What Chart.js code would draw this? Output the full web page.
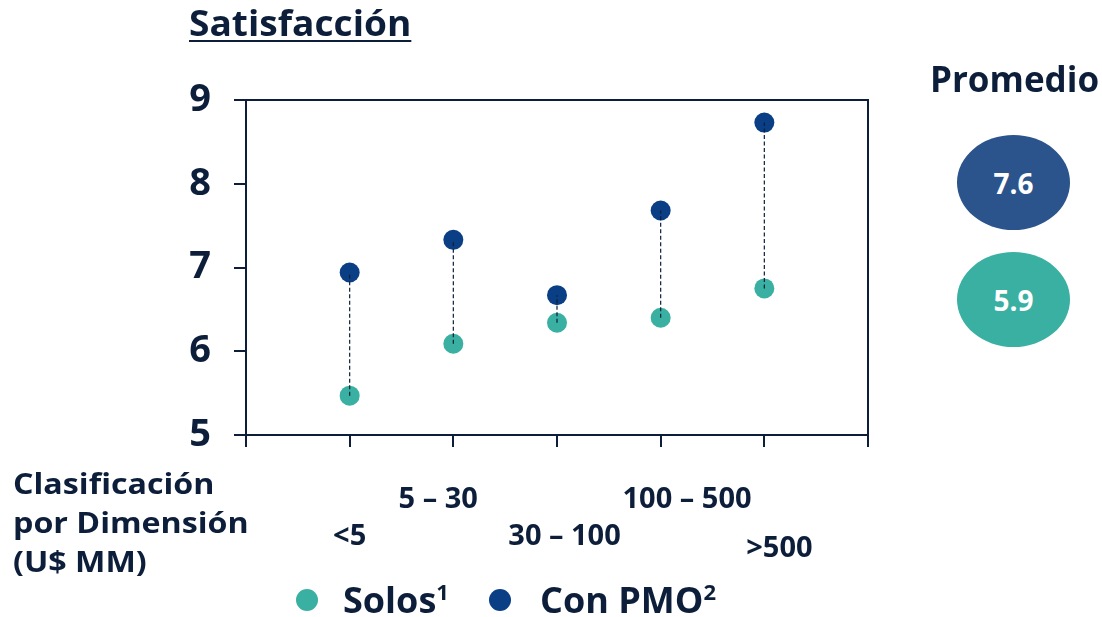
<!DOCTYPE html>
<html>
<head>
<meta charset="utf-8">
<script src="https://cdn.jsdelivr.net/npm/chart.js@4/dist/chart.umd.min.js"></script>
<style>
  html, body { margin: 0; padding: 0; background: #fff; }
  body { width: 1102px; height: 617px; position: relative; overflow: hidden; font-family: "Open Sans", sans-serif; color: #0c1e3a; }
  #chart { position: absolute; left: 0; top: 0; }
  .txt { position: absolute; font-weight: 700; white-space: nowrap; transform-origin: 0 0; }
  #title { left: 189px; top: -1px; font-size: 35px; text-decoration: underline; text-decoration-thickness: 2px; text-underline-offset: 4px; transform: scaleX(1.06); }
  #xTitle { left: 13px; top: 464px; font-size: 28px; line-height: 39px; transform: scaleX(1.15); }
  #promTitle { left: 930px; top: 55px; font-size: 35px; }
  .bubble { position: absolute; left: 957px; width: 113px; height: 95px; border-radius: 50%; color: #fff; font-weight: 700; font-size: 28px; display: flex; align-items: center; justify-content: center; }
  #legend { position: absolute; left: 0; top: 578px; height: 44px; }
  .lg-dot { position: absolute; top: 11px; width: 22px; height: 22px; border-radius: 50%; }
  .lg-txt { position: absolute; top: 0; font-weight: 700; font-size: 36px; line-height: 44px; white-space: nowrap; }
  .lg-txt sup { font-size: 22px; vertical-align: 0; position: relative; top: -13px; margin-left: 0; }
</style>
</head>
<body>
<canvas id="chart" width="1102" height="617"></canvas>
<div id="title" class="txt">Satisfacción</div>
<div id="xTitle" class="txt">Clasificación<br>por Dimensión<br>(U$ MM)</div>
<div id="promTitle" class="txt">Promedio</div>
<div id="promBox"></div>
<div id="legend"></div>
<script>
// datos
var categories = ['<5', '5 – 30', '30 – 100', '100 – 500', '>500'];
var solos = [5.47, 6.09, 6.34, 6.40, 6.75];
var conPmo = [6.94, 7.33, 6.67, 7.68, 8.73];
var seriesLabels = ['Solos', 'Con PMO'];
var seriesNotes = ['1', '2'];
var promedio = [7.6, 5.9];

var ink = '#0c1e3a';
var teal = '#3AB0A2';
var navy = '#0A3F85';
var seriesColors = [teal, navy];

// promedio bubbles
var bubbleColors = ['#2B548C', teal];
var bubbleTops = [135, 252];
var box = document.getElementById('promBox');
promedio.forEach(function(v, i) {
	var d = document.createElement('div');
	d.className = 'bubble';
	d.style.top = bubbleTops[i] + 'px';
	d.style.background = bubbleColors[i];
	d.textContent = v.toFixed(1);
	box.appendChild(d);
});

// legend (html, so the staggered x labels keep their room)
var legendDotX = [296, 489];
var legendTxtX = [343, 540];
var lg = document.getElementById('legend');
seriesLabels.forEach(function(s, i) {
	var dot = document.createElement('div');
	dot.className = 'lg-dot';
	dot.style.left = legendDotX[i] + 'px';
	dot.style.background = seriesColors[i];
	lg.appendChild(dot);
	var t = document.createElement('div');
	t.className = 'lg-txt';
	t.style.left = legendTxtX[i] + 'px';
	t.innerHTML = s + '<sup>' + seriesNotes[i] + '</sup>';
	lg.appendChild(t);
});

function toPoints(arr) {
	return arr.map(function(v, i) { return {x: i + 1, y: v}; });
}

var datasets = [
	{ label: seriesLabels[0], data: toPoints(solos), backgroundColor: teal, borderWidth: 0, pointRadius: 10, pointHoverRadius: 10, order: 2 },
	{ label: seriesLabels[1], data: toPoints(conPmo), backgroundColor: navy, borderWidth: 0, pointRadius: 10, pointHoverRadius: 10, order: 2 }
];
// dashed connectors
for (var i = 0; i < categories.length; i++) {
	datasets.push({
		label: 'link' + i,
		data: [{x: i + 1, y: solos[i]}, {x: i + 1, y: conPmo[i]}],
		showLine: true,
		borderColor: ink,
		borderWidth: 1.2,
		borderDash: [4, 2.5],
		pointRadius: 0,
		order: 0
	});
}

// small horizontal nudges of the staggered x labels (in spaces)
var tickNudge = [0, -4, 2, 7, 4];

function pad(s, n) {
	var sp = new Array(Math.abs(n) + 1).join(' ');
	return n > 0 ? sp + s : s + sp;
}

var framePlugin = {
	id: 'frame',
	afterDraw: function(chart) {
		var a = chart.chartArea, ctx = chart.ctx;
		ctx.save();
		ctx.strokeStyle = ink;
		ctx.lineWidth = 2;
		ctx.beginPath();
		ctx.moveTo(a.left, a.top);
		ctx.lineTo(a.right, a.top);
		ctx.lineTo(a.right, a.bottom);
		ctx.stroke();
		ctx.restore();
	}
};

var axisGrid = { drawOnChartArea: false, color: ink, lineWidth: 2, tickLength: 12 };

new Chart(document.getElementById('chart'), {
	type: 'scatter',
	data: { datasets: datasets },
	options: {
		responsive: false,
		animation: false,
		devicePixelRatio: 1,
		layout: { padding: { left: 180, right: 234, top: 100, bottom: 0 } },
		scales: {
			x: {
				type: 'linear', min: 0, max: 6,
				grid: axisGrid,
				border: { color: ink, width: 2 },
				afterFit: function(s) { s.height = 182; },
				ticks: {
					stepSize: 1, autoSkip: false, maxRotation: 0, minRotation: 0,
					color: ink, padding: 35,
					font: function(ctx) {
						var idx = ctx.tick ? ctx.tick.value : 0;
						return { family: 'Open Sans', weight: 'bold', size: 29, lineHeight: idx === 5 ? 1.54 : 1.25 };
					},
					callback: function(v) {
						var c = categories[v - 1];
						if (!c) return '';
						var s = pad(c, tickNudge[v - 1]);
						return (v % 2 === 0) ? s : ['', s];
					}
				}
			},
			y: {
				min: 5, max: 9,
				grid: axisGrid,
				border: { color: ink, width: 2 },
				afterFit: function(s) { s.width = 66; },
				ticks: { stepSize: 1, color: ink, padding: 23, font: { family: 'Open Sans', weight: 'bold', size: 38 } }
			}
		},
		plugins: {
			tooltip: { enabled: false },
			legend: { display: false }
		}
	},
	plugins: [framePlugin]
});
</script>
</body>
</html>
